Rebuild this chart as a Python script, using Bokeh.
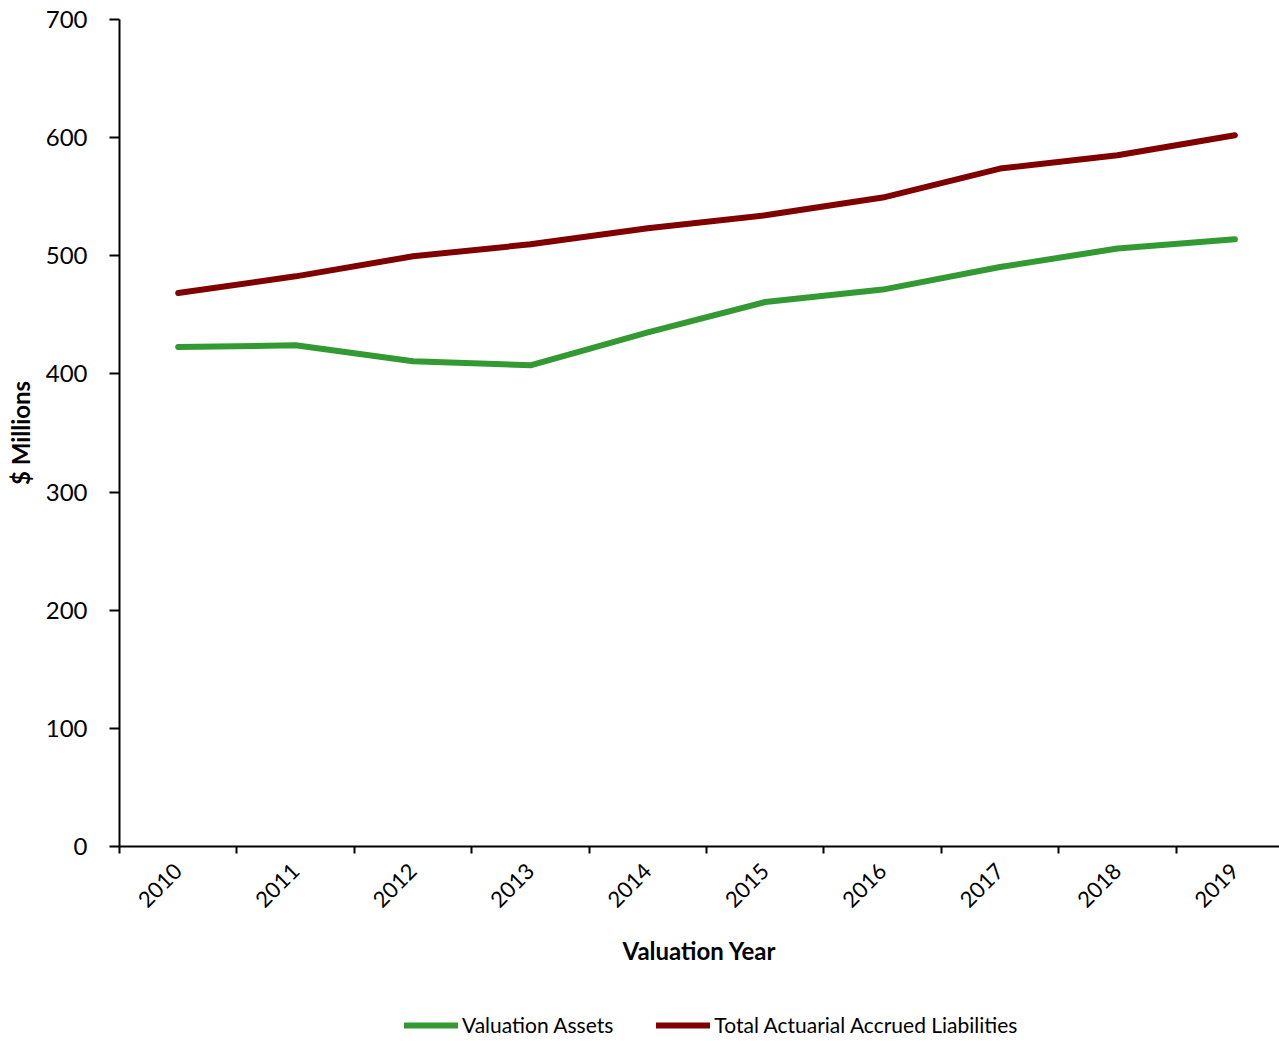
import math
from bokeh.plotting import figure
from bokeh.layouts import column
from bokeh.models import Range1d, FixedTicker, Legend, LegendItem
from bokeh.embed import file_html
from bokeh.resources import INLINE

years = ["2010", "2011", "2012", "2013", "2014", "2015", "2016", "2017", "2018", "2019"]
valuation_assets = [422.8, 424.2, 410.7, 407.3, 435.2, 460.9, 471.4, 490.5, 506.1, 514.0]
total_liabilities = [468.5, 482.6, 499.6, 509.7, 523.3, 534.3, 549.3, 573.8, 585.1, 602.0]
y_ticks = [0, 100, 200, 300, 400, 500, 600, 700]
series_names = ["Valuation Assets", "Total Actuarial Accrued Liabilities"]
series_colors = ["#339933", "#800000"]

FONT = "Lato"
LW = 6
x = [i + 0.5 for i in range(len(years))]
series_values = [valuation_assets, total_liabilities]

p = figure(width=1279, height=985, output_backend="svg", toolbar_location=None,
           x_range=Range1d(0, 9.88), y_range=Range1d(0, 700),
           min_border_left=119, min_border_right=0, min_border_top=19, min_border_bottom=139)
p.outline_line_color = None
p.grid.visible = False
p.background_fill_color = "white"
p.border_fill_color = "white"

for vals, col in zip(series_values, series_colors):
    p.line(x, vals, line_color=col, line_width=LW, line_cap="round", line_join="round")

# y axis
ya = p.yaxis[0]
ya.ticker = FixedTicker(ticks=y_ticks)
ya.axis_line_color = "black"
ya.axis_line_width = 2
ya.major_tick_line_color = "black"
ya.major_tick_line_width = 2
ya.major_tick_out = 10
ya.major_tick_in = 0
ya.minor_tick_line_color = None
ya.major_label_text_font = FONT
ya.major_label_text_font_size = "24px"
ya.major_label_text_color = "black"
ya.major_label_standoff = 22
ya.axis_label = "$ Millions"
ya.axis_label_text_font = FONT
ya.axis_label_text_font_style = "bold"
ya.axis_label_text_font_size = "24px"
ya.axis_label_text_color = "black"
ya.axis_label_standoff = 8

# x axis: labels at category centers, tick marks at boundaries
xa = p.xaxis[0]
xa.ticker = FixedTicker(ticks=x, minor_ticks=list(range(0, len(years) + 1)))
xa.major_label_overrides = {xx: y for xx, y in zip(x, years)}
xa.axis_line_color = "black"
xa.axis_line_width = 2
xa.major_tick_line_color = None
xa.minor_tick_line_color = "black"
xa.minor_tick_line_width = 2
xa.minor_tick_out = 7
xa.minor_tick_in = 0
xa.major_label_orientation = math.pi / 4
xa.major_label_text_font = FONT
xa.major_label_text_font_size = "22px"
xa.major_label_text_color = "black"
xa.major_label_standoff = 14
xa.axis_label = "Valuation Year"
xa.axis_label_text_font = FONT
xa.axis_label_text_font_style = "bold"
xa.axis_label_text_font_size = "24px"
xa.axis_label_text_color = "black"
xa.axis_label_standoff = 19

# legend strip below the chart (series drawn out of view; only the legend shows)
lg = figure(width=1279, height=56, output_backend="svg", toolbar_location=None,
            x_range=Range1d(0, 1), y_range=Range1d(0, 1),
            min_border_left=0, min_border_right=0, min_border_top=0, min_border_bottom=0)
lg.axis.visible = False
lg.grid.visible = False
lg.outline_line_color = None
lg.border_fill_color = "white"
items = []
for name, vals, col in zip(series_names, series_values, series_colors):
    r = lg.line(x, vals, line_color=col, line_width=LW, line_cap="round")
    items.append(LegendItem(label=name, renderers=[r]))
legend = Legend(items=items, orientation="horizontal", location=(285, 4))
legend.label_text_font = FONT
legend.label_text_font_size = "21px"
legend.label_text_color = "black"
legend.glyph_width = 54
legend.glyph_height = 20
legend.label_standoff = 4
legend.spacing = 43
legend.border_line_color = None
legend.background_fill_alpha = 0
legend.margin = 0
legend.padding = 0
lg.add_layout(legend, "center")

layout = column(p, lg, spacing=0)
open("out.html", "w").write(file_html(layout, INLINE))
